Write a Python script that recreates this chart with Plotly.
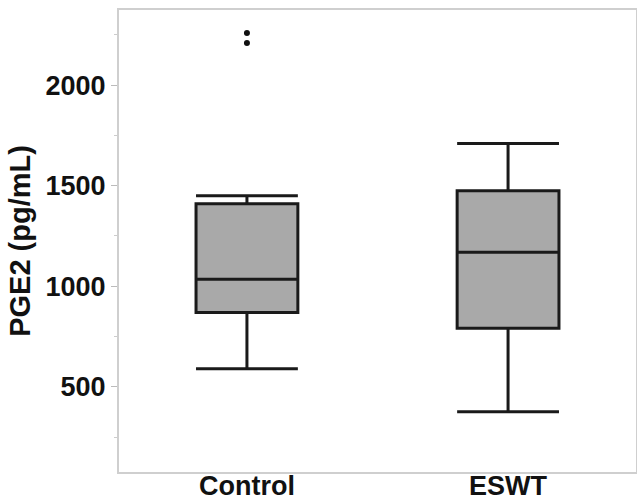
import plotly.graph_objects as go

categories = ["Control", "ESWT"]
q1_vals = [870, 791]
median_vals = [1035, 1169]
q3_vals = [1410, 1475]
lower_whisker = [590, 376]
upper_whisker = [1450, 1709]
outlier_x = ["Control", "Control"]
outlier_y = [2209, 2259]
y_tick_vals = [500, 1000, 1500, 2000]
y_tick_text = ["500", "1000", "1500", "2000"]

fig = go.Figure()
fig.add_trace(go.Box(
    x=categories,
    q1=q1_vals, median=median_vals, q3=q3_vals,
    lowerfence=lower_whisker, upperfence=upper_whisker,
    boxpoints=False,
    fillcolor="#a9a9a9",
    line=dict(color="#1a1a1a", width=3),
    whiskerwidth=1,
    showlegend=False,
    hoverinfo="skip",
))
fig.add_trace(go.Scatter(
    x=outlier_x, y=outlier_y, mode="markers",
    marker=dict(color="#111111", size=6),
    showlegend=False, hoverinfo="skip",
))

fig.update_layout(
    width=637, height=504,
    margin=dict(l=119, r=1, t=10, b=32, autoexpand=False),
    paper_bgcolor="white", plot_bgcolor="white",
    boxgap=0.61, boxgroupgap=0,
    font=dict(family="Liberation Sans, Arial, sans-serif", color="#111111"),
)
fig.update_xaxes(
    type="category", range=[-0.49, 1.49], automargin=False,
    showline=True, linecolor="#cfcfcf", linewidth=2, mirror=True,
    ticks="", showgrid=False, zeroline=False,
    ticklabelstandoff=-11,
    tickfont=dict(size=27),
    tickprefix="<b>", ticksuffix="</b>",
)
fig.update_yaxes(
    range=[77, 2373], automargin=False,
    tickvals=y_tick_vals, ticktext=["<b>" + t + "</b>" for t in y_tick_text],
    ticks="outside", ticklen=6, tickcolor="#bbbbbb", tickwidth=1,
    minor=dict(tickvals=[250, 750, 1250, 1750, 2250], ticks="outside", ticklen=3, tickcolor="#cccccc"),
    showline=True, linecolor="#cfcfcf", linewidth=2, mirror=True,
    showgrid=False, zeroline=False,
    tickfont=dict(size=27),
    title=dict(text="<b>PGE2 (pg/mL)</b>", font=dict(size=29), standoff=6),
)

fig.write_html(
    "out.html",
    config={"displayModeBar": False},
    post_script="document.body.style.margin='0';document.body.style.overflow='hidden';",
)
